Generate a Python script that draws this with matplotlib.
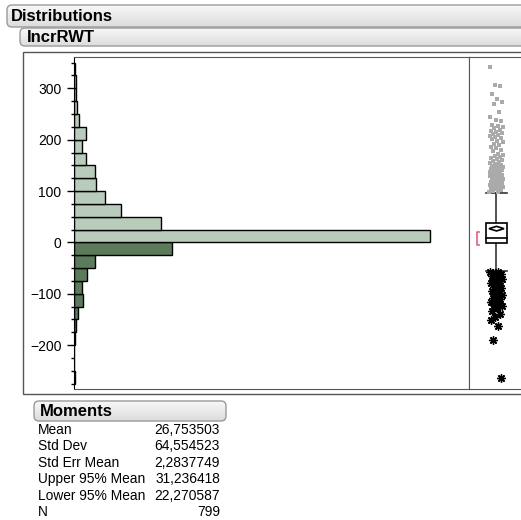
import numpy as np
import matplotlib
matplotlib.use('Agg')
import matplotlib.pyplot as plt
from matplotlib.patches import FancyBboxPatch, Rectangle, Polygon
from matplotlib.colors import LinearSegmentedColormap
from matplotlib.ticker import MultipleLocator, FixedLocator

plt.rcParams['font.family'] = ['Liberation Sans', 'DejaVu Sans']

# ===== DATA =====
# histogram bins of width 25 (lower edges) and counts
bin_lows = [-275, -250, -225, -200, -175, -150, -125, -100, -75, -50, -25,
            0, 25, 50, 75, 100, 125, 150, 175, 200, 225, 250, 275, 300, 325]
counts = [1, 0, 0, 1, 2, 4, 9, 8, 14, 22, 102,
          371, 91, 49, 32, 23, 22, 12, 8, 12, 5, 3, 2, 2, 1]

# outlier box plot summary
q1, median, q3 = -1, 8, 38
whisker_lo, whisker_hi = -56, 97
shortest_half = (-6, 20)

# gray dots above the upper whisker
upper_outliers = [98, 99, 101, 102, 103, 104, 105, 106, 107, 108, 109, 110, 111,
                  112, 113, 114, 116, 117, 118, 120, 121, 123, 124,
                  126, 127, 128, 129, 130, 131, 132, 133, 134, 135, 136, 137,
                  139, 140, 141, 142, 143, 145, 146, 147, 148, 149,
                  151, 153, 155, 156, 158, 160, 162, 164, 166, 168, 171, 173,
                  177, 180, 183, 186, 189, 192, 195, 198,
                  201, 203, 205, 207, 209, 211, 213, 215, 217, 219, 222, 224,
                  226, 228, 236, 238, 244, 254, 270, 273, 280, 288, 304, 306, 341]
# asterisks below the lower whisker
lower_outliers = [-57, -58, -60, -61, -63, -65, -67, -69, -71, -73, -74, -76,
                  -78, -80, -83, -86, -89, -92, -95, -98, -101, -103, -106,
                  -108, -111, -113, -116, -119, -122, -124, -128, -133, -139,
                  -146, -152, -163, -190, -265]

moment_names = ['Mean', 'Std Dev', 'Std Err Mean', 'Upper 95% Mean',
                'Lower 95% Mean', 'N']
moment_values = [26.753503, 64.554523, 2.2837749, 31.236418, 22.270587, 799]
moment_labels = ['26,753503', '64,554523', '2,2837749', '31,236418',
                 '22,270587', '799']
mean, ci_hi, ci_lo = moment_values[0], moment_values[3], moment_values[4]

# ===== LAYOUT (pixel helpers) =====
W, H = 521, 520
fig = plt.figure(figsize=(W / 100, H / 100), dpi=100)


def px_axes(x0, y0, x1, y1, **kw):
    return fig.add_axes([x0 / W, 1 - y1 / H, (x1 - x0) / W, (y1 - y0) / H], **kw)


ov = px_axes(0, 0, W, H, zorder=0)
ov.set_xlim(0, W)
ov.set_ylim(H, 0)
ov.axis('off')

hdr_cmap = LinearSegmentedColormap.from_list('hdr', ['#f8f8f8', '#dcdcdc'])
grad = np.linspace(0, 1, 64).reshape(-1, 1)


def header(x0, y0, x1, y1, text, tx):
    box = FancyBboxPatch((x0, y0), x1 - x0, y1 - y0,
                         boxstyle='round,pad=0,rounding_size=5',
                         fc='none', ec='#9a9a9a', lw=1, zorder=3)
    ov.add_patch(box)
    im = ov.imshow(grad, extent=(x0, x1, y1, y0), cmap=hdr_cmap,
                   aspect='auto', zorder=2, interpolation='bilinear')
    im.set_clip_path(box)
    ov.text(tx, (y0 + y1) / 2 + 0.5, text, fontsize=12, fontweight='bold',
            va='center', ha='left', zorder=4)


header(7, 5, 540, 27, 'Distributions', 11)
header(20, 28, 540, 46, 'IncrRWT', 27)
header(34, 401, 226, 421, 'Moments', 40)

# outer report frame
ov.add_patch(Rectangle((23, 52), 540, 342, fc='none', ec='#555555', lw=1, zorder=1))

# moments table
for i, (name, lab) in enumerate(zip(moment_names, moment_labels)):
    y = 430 + i * 16.4
    ov.text(38, y, name, fontsize=9.9, va='center', ha='left')
    ov.text(220, y, lab, fontsize=9.9, va='center', ha='right')
ov.set_xlim(0, W)
ov.set_ylim(H, 0)

# ===== HISTOGRAM =====
ylo, yhi = -285.5, 361
ax = px_axes(74, 57, 469, 389, zorder=2)
light, dark = '#b9cbbb', '#5b7b5b'
colors = [dark if b < 0 else light for b in bin_lows]
ax.barh(bin_lows, counts, height=25, align='edge', color=colors,
        edgecolor='black', linewidth=1)
ax.set_xlim(0, 411.6)
ax.set_ylim(ylo, yhi)
ax.set_xticks([])
ax.yaxis.set_major_locator(FixedLocator([-200, -100, 0, 100, 200, 300]))
ax.yaxis.set_minor_locator(MultipleLocator(25))
ax.tick_params(axis='y', which='major', length=5, width=1, pad=4, labelsize=10)
ax.tick_params(axis='y', which='minor', length=2.2, width=1)
ax.spines['left'].set_color('black')
for s in ('top', 'bottom', 'right'):
    ax.spines[s].set_color('#555555')

# ===== OUTLIER BOX PLOT =====
bx = px_axes(469, 57, 560, 389, zorder=2)
bx.set_xlim(469, 560)
bx.set_ylim(ylo, yhi)
bx.set_xticks([])
bx.set_yticks([])
for s in bx.spines.values():
    s.set_color('#555555')
cx, half = 496.5, 10.5

# whiskers and caps
bx.plot([cx, cx], [q3, whisker_hi], color='#333333', lw=1.2, zorder=2)
bx.plot([cx, cx], [whisker_lo, q1], color='#333333', lw=1.2, zorder=2)
bx.plot([cx - half, cx + half], [whisker_hi, whisker_hi], color='#333333', lw=1.2)
bx.plot([cx - half, cx + half], [whisker_lo, whisker_lo], color='#333333', lw=1.2)

# box, median and mean diamond
bx.add_patch(Rectangle((cx - half, q1), 2 * half, q3 - q1, fc='white',
                       ec='black', lw=1.2, zorder=3))
bx.plot([cx - half, cx + half], [median, median], color='black', lw=1.2, zorder=4)
dw = 7.5
bx.add_patch(Polygon([(cx - dw, mean), (cx, ci_hi), (cx + dw, mean), (cx, ci_lo)],
                     closed=True, fc='none', ec='black', lw=1.2, zorder=4))

# shortest half bracket
sx = 479
bx.plot([sx, sx - 2, sx - 2, sx], [shortest_half[1], shortest_half[1],
                                   shortest_half[0], shortest_half[0]],
        color='#e0607a', lw=1.2)

# outlier points with a small spread sideways
up_x = [cx + ((i * 0.618) % 1 - 0.5) * 14 for i in range(len(upper_outliers))]
bx.plot(up_x, upper_outliers, ls='none', marker='s', ms=2.3, mew=0,
        color='#aaaaaa', zorder=2)
lo_x = [cx + ((i * 0.618) % 1 - 0.5) * 12 for i in range(len(lower_outliers))]
bx.plot(lo_x, lower_outliers, ls='none', marker=(8, 2, 0), ms=6, mew=1,
        color='black', zorder=2)

fig.savefig('out.png', dpi=100)
